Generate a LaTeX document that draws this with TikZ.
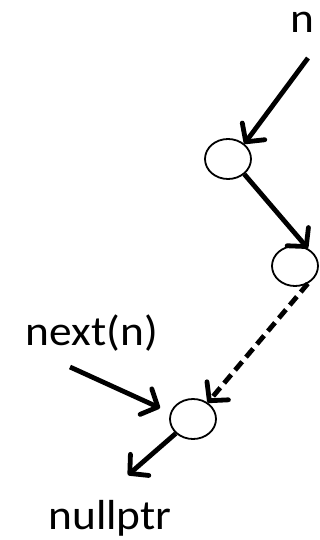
\documentclass[tikz,border=0pt]{standalone}
\usepackage{fontspec}
\setmainfont{Carlito}[FakeStretch=1.08]
\usetikzlibrary{arrows.meta,shapes.geometric}
\begin{document}
\begin{tikzpicture}[x=1pt,y=-1pt,
  lbl/.style={font=\fontsize{42}{46}\selectfont, inner sep=0pt, anchor=base},
  nd/.style={ellipse, draw, line width=1.8pt, minimum width=46pt, minimum height=40pt, inner sep=0pt},
  arr/.style={line width=4.8pt, -{Straight Barb[length=13pt,width=28pt,line width=4.8pt,round]}},
  dsh/.style={arr, dash pattern=on 11pt off 6pt}]
\useasboundingbox (0,0) rectangle (320,540);
\node[lbl] (n) at (302,33) {n};
\node[lbl] (nx) at (92,345) {next(n)};
\node[lbl] (np) at (110,529) {nullptr};
\node[nd] (c1) at (228,159) {};
\node[nd] (c2) at (295,266) {};
\node[nd] (c3) at (193,419) {};
\coordinate (s1) at (308,58);
\coordinate (s2) at (70,367);
\coordinate (t2) at (160,408);
\coordinate (t3) at (128,475);
\draw[arr] (s1) -- (c1.43);
\draw[arr] (c1.-43) -- (c2.54);
\draw[dsh] (c2.-54) -- (c3.48);
\draw[arr] (s2) -- (t2);
\draw[arr] (c3.-140) -- (t3);
\end{tikzpicture}
\end{document}
